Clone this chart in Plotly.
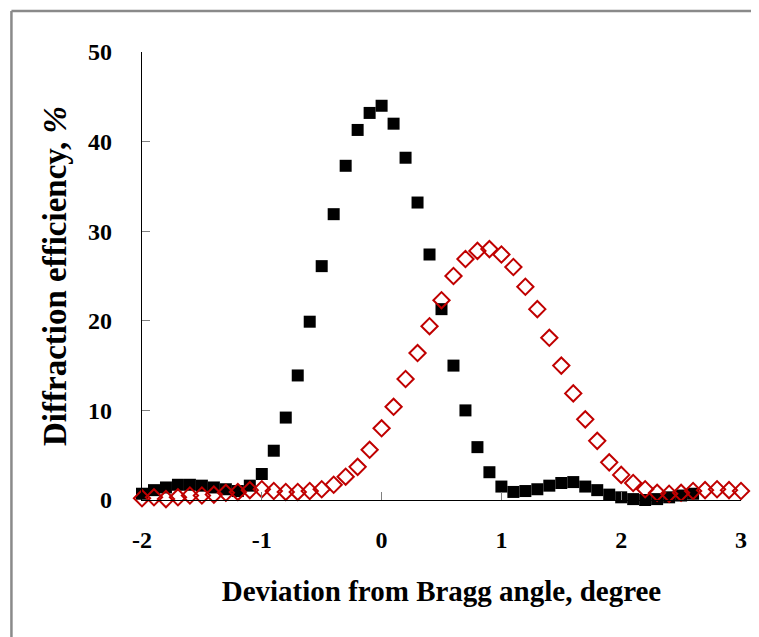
import plotly.graph_objects as go

# Data
x_black = [round(-2.0 + 0.1 * i, 1) for i in range(47)]  # -2.0 .. 2.6
y_black = [0.7, 1.1, 1.4, 1.7, 1.7, 1.6, 1.4, 1.2, 1.0, 1.6,
           2.9, 5.5, 9.2, 13.9, 19.9, 26.1, 31.9, 37.3, 41.3, 43.2,
           44.0, 42.0, 38.2, 33.2, 27.4, 21.3, 15.0, 10.0, 5.9, 3.1,
           1.5, 0.9, 1.0, 1.2, 1.6, 1.9, 2.0, 1.5, 1.1, 0.6,
           0.3, 0.1, 0.0, 0.1, 0.3, 0.5, 0.7]

x_red = [round(-2.0 + 0.1 * i, 1) for i in range(51)]  # -2.0 .. 3.0
y_red = [0.2, 0.3, 0.1, 0.3, 0.5, 0.5, 0.6, 0.8, 0.9, 1.1,
         1.2, 1.0, 0.9, 0.9, 1.0, 1.2, 1.7, 2.6, 3.7, 5.6,
         8.0, 10.4, 13.5, 16.4, 19.4, 22.3, 25.0, 26.9, 27.8, 28.0,
         27.4, 26.0, 23.8, 21.3, 18.1, 15.0, 11.9, 9.0, 6.6, 4.2,
         2.8, 1.9, 1.2, 0.8, 0.7, 0.8, 1.0, 1.1, 1.2, 1.1, 1.0]

x_ticks = [-2, -1, 0, 1, 2, 3]
y_ticks = [0, 10, 20, 30, 40, 50]

# The page has an 8px body margin, so the figure is 8px smaller
OFF = 8
W, H = 759 - OFF, 637 - OFF
L, R, T, B = 142 - OFF, 16, 52 - OFF, 137

fig = go.Figure()
fig.add_trace(go.Scatter(
    x=x_black, y=y_black, mode="markers", cliponaxis=False,
    marker=dict(symbol="square", size=12, color="black"),
    showlegend=False))
fig.add_trace(go.Scatter(
    x=x_red, y=y_red, mode="markers", cliponaxis=False,
    marker=dict(symbol="diamond-open", size=12.5, color="#c00000",
                line=dict(width=2, color="#c00000")),
    showlegend=False))

tickfont = dict(family="Liberation Serif", size=24, color="black")

fig.update_layout(
    width=W, height=H,
    margin=dict(l=L, r=R, t=T, b=B),
    plot_bgcolor="white", paper_bgcolor="white",
    font=dict(family="Liberation Serif", color="black"),
    xaxis=dict(range=[-2, 3], tickvals=x_ticks,
               ticktext=["<b>%d</b>" % v for v in x_ticks],
               tickfont=tickfont,
               showline=True, linecolor="black", linewidth=1.2,
               ticks="inside", ticklen=8, tickcolor="#808080", tickwidth=1,
               showgrid=False, zeroline=False, ticklabelstandoff=18,
               title=dict(text="<b>Deviation from Bragg angle, degree</b>",
                          font=dict(family="Liberation Serif", size=29),
                          standoff=28)),
    yaxis=dict(range=[0, 50], tickvals=y_ticks,
               ticktext=["<b>%d</b>" % v for v in y_ticks],
               tickfont=tickfont,
               showline=True, linecolor="black", linewidth=1.2,
               ticks="inside", ticklen=8, tickcolor="#808080", tickwidth=1,
               showgrid=False, zeroline=False, ticklabelstandoff=24,
               title=dict(text="<b>Diffraction efficiency, <i>%</i></b>",
                          font=dict(family="Liberation Serif", size=33),
                          standoff=11)),
)

# Outer gray frame (left and top edges visible)
pw = W - L - R
ph = H - T - B
def px2x(px):
    return (px - OFF - L) / pw
def py2y(py):
    return (H - B - (py - OFF)) / ph

fig.add_shape(type="line", xref="paper", yref="paper",
              x0=px2x(11), x1=px2x(11), y0=py2y(11), y1=py2y(H + 20),
              line=dict(color="#8a8a8a", width=2.5))
fig.add_shape(type="line", xref="paper", yref="paper",
              x0=px2x(11), x1=px2x(W + 20), y0=py2y(11), y1=py2y(11),
              line=dict(color="#8a8a8a", width=2.5))

fig.write_html("out.html")
